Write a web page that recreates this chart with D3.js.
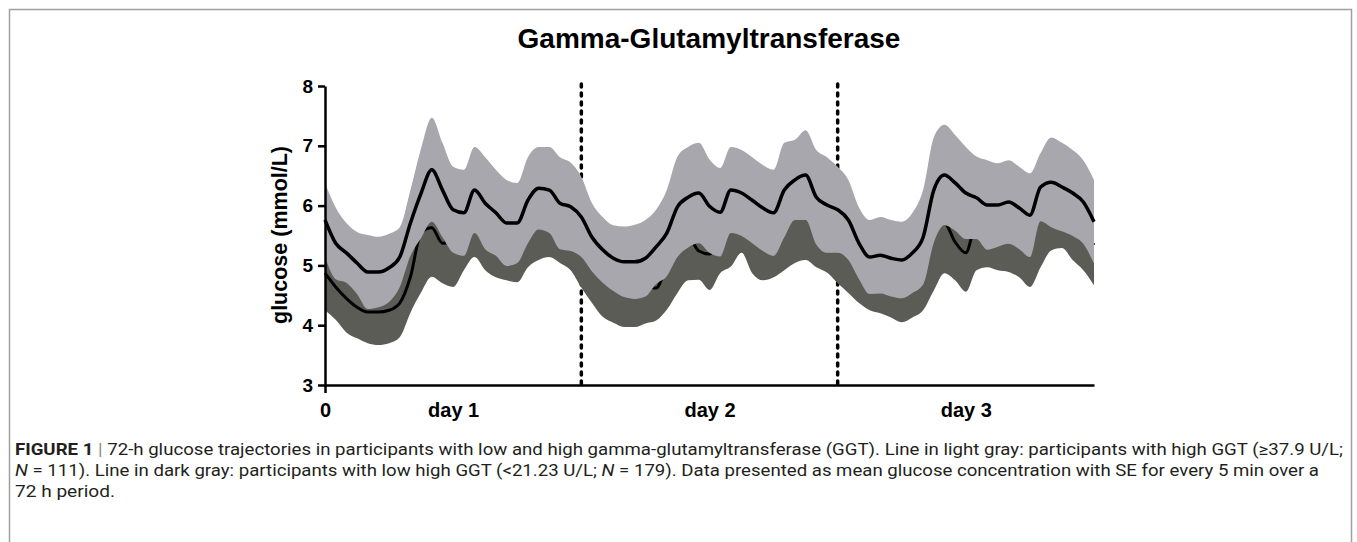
<!DOCTYPE html>
<html>
<head>
<meta charset="utf-8">
<script src="https://cdn.jsdelivr.net/npm/d3@7"></script>
<style>
  html, body { margin: 0; padding: 0; background: #ffffff; }
  svg { display: block; }
</style>
</head>
<body>
<svg id="chart" width="1357" height="542"></svg>
<script>
// ---- Data ----
const hours = [0,1,2,3,4,5,6,7,8,9,10,11,12,13,14,15,16,17,18,19,20,21,22,23,24,
  25,26,27,28,29,30,31,32,33,34,35,36,37,38,39,40,41,42,43,44,45,46,47,48,
  49,50,51,52,53,54,55,56,57,58,59,60,61,62,63,64,65,66,67,68,69,70,71,72];

// High GGT group (light gray band), mean glucose (mmol/L)
const highMean = [5.76,5.37,5.21,5.04,4.89,4.89,4.96,5.14,5.71,6.21,
  6.60,6.26,5.93,5.88,6.26,6.04,5.88,5.71,5.71,6.09,
  6.29,6.26,6.04,5.98,5.81,5.47,5.26,5.12,5.06,5.06,
  5.12,5.31,5.54,5.98,6.14,6.21,5.99,5.89,6.26,6.21,
  6.09,5.96,5.88,6.26,6.43,6.51,6.14,6.01,5.93,5.76,
  5.37,5.14,5.17,5.12,5.09,5.21,5.47,6.26,6.51,6.38,
  6.21,6.13,6.01,6.01,6.06,5.96,5.84,6.31,6.39,6.31,
  6.21,6.06,5.73];
const highSE = [0.62,0.60,0.50,0.52,0.62,0.59,0.57,0.50,0.55,0.75,
  0.87,0.79,0.72,0.72,0.72,0.77,0.72,0.72,0.67,0.72,
  0.69,0.72,0.77,0.74,0.67,0.57,0.55,0.55,0.59,0.62,
  0.64,0.62,0.72,0.84,0.84,0.84,0.78,0.74,0.72,0.72,
  0.72,0.72,0.72,0.79,0.67,0.75,0.79,0.80,0.72,0.67,
  0.60,0.62,0.64,0.64,0.64,0.67,0.79,0.88,0.84,0.80,
  0.77,0.69,0.75,0.70,0.70,0.69,0.70,0.57,0.75,0.74,
  0.72,0.70,0.70];

// Low GGT group (dark gray band), mean glucose (mmol/L)
const lowMean = [4.87,4.64,4.45,4.30,4.22,4.22,4.25,4.37,4.81,5.55,
  5.63,5.37,5.40,5.59,5.81,5.59,5.47,5.42,5.39,5.64,
  5.76,5.81,5.71,5.59,5.32,5.07,4.88,4.74,4.64,4.62,
  4.65,4.62,5.00,5.30,5.48,5.24,5.19,5.54,5.72,5.91,
  5.54,5.42,5.47,5.65,5.92,5.92,5.71,5.58,5.37,5.26,
  5.01,4.89,4.84,4.77,4.69,4.77,4.92,5.55,5.70,5.39,
  5.21,5.70,5.64,5.59,5.56,5.47,5.31,5.90,5.99,6.03,
  5.79,5.59,5.34];
const lowSE = [0.62,0.55,0.57,0.52,0.52,0.55,0.55,0.57,0.60,1.00,
  0.82,0.67,0.76,0.67,0.67,0.67,0.67,0.67,0.67,0.67,
  0.67,0.67,0.67,0.67,0.69,0.70,0.74,0.70,0.67,0.65,
  0.62,0.54,0.74,0.76,0.73,0.48,0.60,0.67,0.74,0.70,
  0.67,0.67,0.67,0.73,0.88,0.83,0.74,0.70,0.67,0.72,
  0.64,0.64,0.64,0.64,0.64,0.64,0.67,0.97,0.83,0.64,
  0.65,0.78,0.67,0.67,0.67,0.67,0.67,0.93,0.74,0.74,
  0.70,0.67,0.67];

const yTicks = [3,4,5,6,7,8];
const xTicks = [0];
const dayPositions = [12,36,60];
const dayLabels = ["day 1","day 2","day 3"];
const dayBoundaries = [24,48];
const titleText = "Gamma-Glutamyltransferase";
const yTitle = "glucose (mmol/L)";

// ---- Drawing ----
const svg = d3.select("#chart");
svg.append("rect").attr("width",1357).attr("height",542).attr("fill","#fff");

// figure frame
svg.append("rect")
  .attr("x",9.5).attr("y",9.5).attr("width",1342).attr("height",620)
  .attr("fill","none").attr("stroke","#a0a0a0").attr("stroke-width",1.5);

const x = d3.scaleLinear().domain([0,72]).range([325,1094]);
const y = d3.scaleLinear().domain([3,8]).range([385,86]);

const high = hours.map((h,i)=>({h, m:highMean[i], se:highSE[i]}));
const low = hours.map((h,i)=>({h, m:lowMean[i], se:lowSE[i]}));

const curve = d3.curveMonotoneX;
const area = d3.area().x(d=>x(d.h)).y0(d=>y(d.m-d.se)).y1(d=>y(d.m+d.se)).curve(curve);
const line = d3.line().x(d=>x(d.h)).y(d=>y(d.m)).curve(curve);

// title
svg.append("text")
  .attr("x",709).attr("y",48).attr("text-anchor","middle")
  .style("font-family","'Liberation Sans', Arial, sans-serif")
  .style("font-weight","bold").style("font-size","28px").attr("fill","#000")
  .text(titleText);

// day boundary dashed lines (under the bands)
svg.append("g").selectAll("line").data(dayBoundaries).join("line")
  .attr("x1",d=>x(d)).attr("x2",d=>x(d))
  .attr("y1",84).attr("y2",385)
  .attr("stroke","#000").attr("stroke-width",3.5)
  .attr("stroke-dasharray","3,6").attr("stroke-linecap","round");

// low group band + mean
svg.append("path").datum(low).attr("d",area).attr("fill","#5c5c57");
svg.append("path").datum(low).attr("d",line)
  .attr("fill","none").attr("stroke","#000").attr("stroke-width",3);

// high group band + mean
svg.append("path").datum(high).attr("d",area).attr("fill","#a8a7ad");
svg.append("path").datum(high).attr("d",line)
  .attr("fill","none").attr("stroke","#000").attr("stroke-width",3.5);

// axes
const fontFam = "'Liberation Sans', Arial, sans-serif";
const yAxis = d3.axisLeft(y).tickValues(yTicks).tickSize(7).tickSizeOuter(0).tickPadding(5)
  .tickFormat(d3.format("d"));
const gy = svg.append("g").attr("transform","translate(325,0)").call(yAxis);
gy.select(".domain").attr("stroke-width",2.5);
gy.selectAll(".tick line").attr("stroke-width",2.5);
gy.selectAll(".tick text").style("font-family",fontFam).style("font-weight","bold")
  .style("font-size","19px").attr("fill","#000");

const xAxis = d3.axisBottom(x).tickValues(xTicks).tickSize(8).tickSizeOuter(0).tickPadding(10)
  .tickFormat(d3.format("d"));
const gx = svg.append("g").attr("transform","translate(0,385)").call(xAxis);
gx.select(".domain").attr("stroke-width",2.5);
gx.selectAll(".tick line").attr("stroke-width",2.5);
gx.selectAll(".tick text").style("font-family",fontFam).style("font-weight","bold")
  .style("font-size","20px").attr("fill","#000");

const dayAxis = d3.axisBottom(x).tickValues(dayPositions).tickSize(0).tickPadding(18)
  .tickFormat((d,i)=>dayLabels[i]);
const gd = svg.append("g").attr("transform","translate(0,385)").call(dayAxis);
gd.select(".domain").remove();
gd.selectAll(".tick text").style("font-family",fontFam).style("font-weight","bold")
  .style("font-size","20px").attr("fill","#000");

// y axis title
svg.append("text")
  .attr("transform","translate(287,235) rotate(-90)")
  .attr("text-anchor","middle")
  .style("font-family",fontFam).style("font-weight","bold").style("font-size","21.5px")
  .attr("fill","#000").text(yTitle);

// caption
const capFont = "'Liberation Sans Narrow', 'Roboto', 'Liberation Sans', sans-serif";
const cap = svg.append("g").style("font-family",capFont).style("font-size","16.5px").attr("fill","#231f20");
const l1 = cap.append("text").attr("x",15).attr("y",455)
  .attr("textLength",1328).attr("lengthAdjust","spacingAndGlyphs");
l1.append("tspan").style("font-weight","bold").text("FIGURE 1");
l1.append("tspan").attr("fill","#888").text(" | ");
l1.append("tspan").text("72-h glucose trajectories in participants with low and high gamma-glutamyltransferase (GGT). Line in light gray: participants with high GGT (≥37.9 U/L;");
const l2 = cap.append("text").attr("x",15).attr("y",476)
  .attr("textLength",1304).attr("lengthAdjust","spacingAndGlyphs");
l2.append("tspan").style("font-style","italic").text("N");
l2.append("tspan").text(" = 111). Line in dark gray: participants with low high GGT (<21.23 U/L; ");
l2.append("tspan").style("font-style","italic").text("N");
l2.append("tspan").text(" = 179). Data presented as mean glucose concentration with SE for every 5 min over a");
cap.append("text").attr("x",15).attr("y",497)
  .attr("textLength",100).attr("lengthAdjust","spacingAndGlyphs")
  .text("72 h period.");
</script>
</body>
</html>
